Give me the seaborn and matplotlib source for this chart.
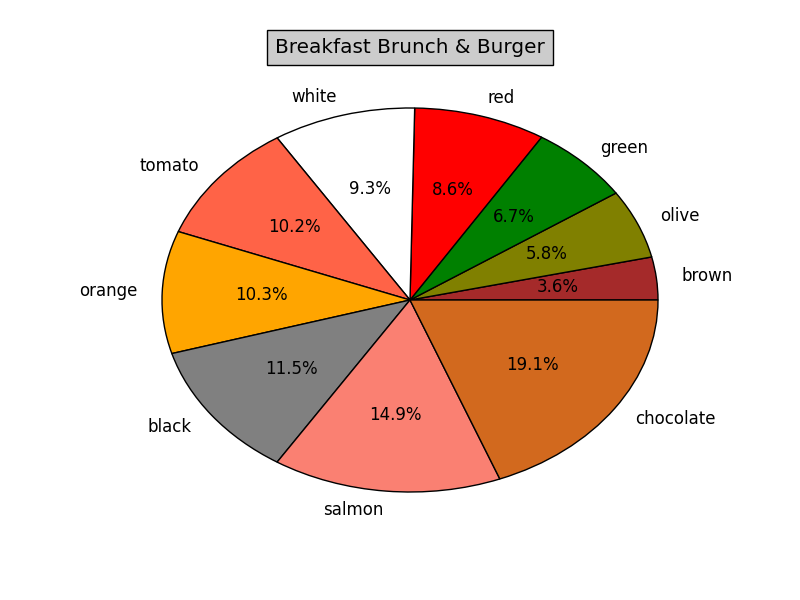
import matplotlib
matplotlib.use('Agg')
import matplotlib.pyplot as plt
import seaborn as sns

sns.set_style('white')
plt.rcParams['font.family'] = ['DejaVu Sans']
plt.rcParams['text.color'] = 'black'

# Slice data (percent shares), counterclockwise from 0 degrees
labels = ['brown', 'olive', 'green', 'red', 'white', 'tomato', 'orange',
          'black', 'salmon', 'chocolate']
shares = [3.6, 5.8, 6.7, 8.6, 9.3, 10.2, 10.3, 11.5, 14.9, 19.1]
colors = ['brown', 'olive', 'green', 'red', 'white', 'tomato', 'orange',
          'gray', 'salmon', 'chocolate']

fig = plt.figure(figsize=(8, 6), dpi=100)
ax = fig.add_axes([0.125, 0.1, 0.775, 0.8])
wedges, texts, autotexts = ax.pie(shares, labels=labels, colors=colors,
                                  autopct='%1.1f%%',
                                  wedgeprops={'edgecolor': 'black', 'linewidth': 1},
                                  textprops={'fontsize': 12, 'color': 'black'})
ax.set_aspect('auto')
ax.set_xlim(-1.25, 1.25)
ax.set_ylim(-1.25, 1.25)
ax.set_title('Breakfast Brunch & Burger', fontsize=14.4, pad=5, color='black',
             bbox={'facecolor': '#cccccc', 'edgecolor': 'black', 'pad': 5.5})
fig.savefig('out.png', dpi=100)
